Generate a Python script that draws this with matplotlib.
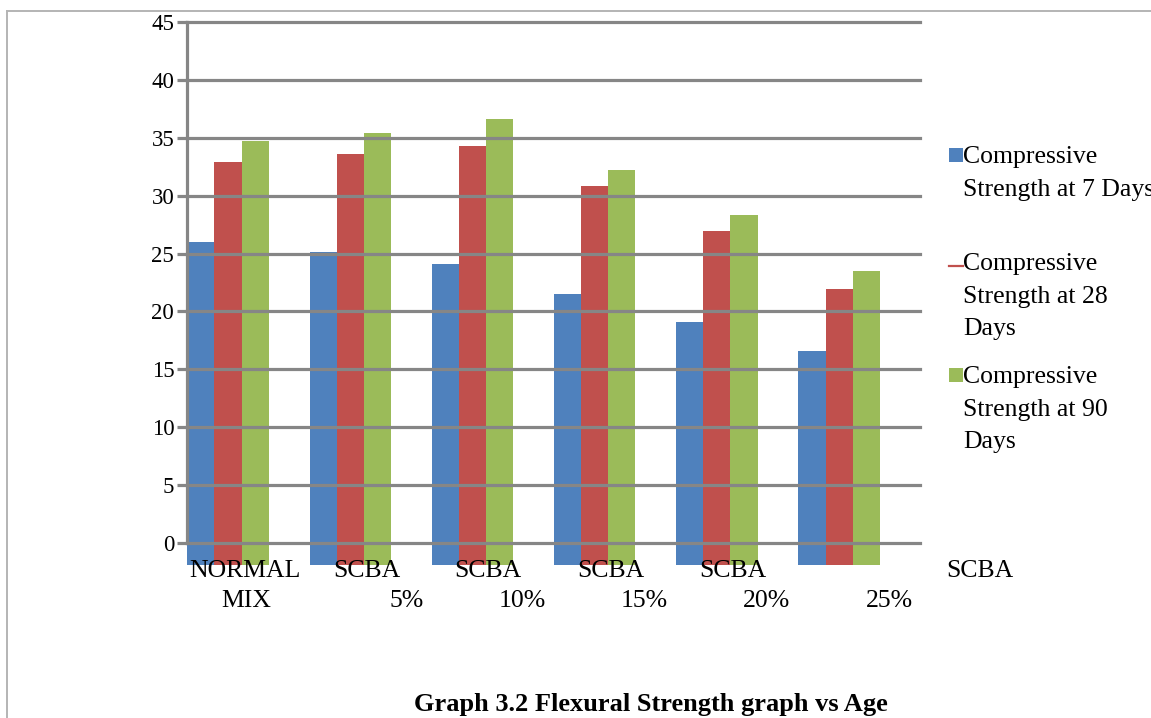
import matplotlib.pyplot as plt
from matplotlib.patches import Rectangle
from matplotlib.lines import Line2D
import numpy as np

plt.rcParams['font.family'] = ['Liberation Serif', 'DejaVu Serif']

# data
labels_top = ['NORMAL', 'SCBA', 'SCBA', 'SCBA', 'SCBA', 'SCBA']
labels_bottom = ['MIX', '5%', '10%', '15%', '20%', '25%']
days_7 = [26.0, 25.1, 24.1, 21.5, 19.1, 16.6]
days_28 = [32.9, 33.6, 34.3, 30.8, 26.9, 21.9]
days_90 = [34.7, 35.4, 36.6, 32.2, 28.3, 23.5]
series_names = ['Compressive\nStrength at 7 Days',
                'Compressive\nStrength at 28\nDays',
                'Compressive\nStrength at 90\nDays']
colors = ['#4F81BD', '#C0504D', '#9BBB59']
title = 'Graph 3.2 Flexural Strength graph vs Age'

W, H = 1151, 718
GRID = '#868686'


def fx(px):
    return px / W


def fy(py):
    return 1 - py / H


fig = plt.figure(figsize=(W / 100, H / 100), dpi=100)
ax = fig.add_axes([fx(186.7), fy(543.3), (920 - 186.7) / W, (543.3 - 21.7) / H])

x = np.arange(len(labels_top))
bw = 0.222
below = 1.85  # bars hang below the zero line in the original
for k, vals in enumerate([days_7, days_28, days_90]):
    vals = np.array(vals)
    ax.bar(x + 0.005 + k * bw, vals + below, bottom=-below, width=bw,
           align='edge', color=colors[k], zorder=1, clip_on=False,
           linewidth=0)

ax.set_xlim(0, len(labels_top))
ax.set_ylim(0, 45)
ax.set_yticks(range(0, 46, 5))
ax.set_axisbelow(False)
ax.yaxis.grid(True, color=GRID, linewidth=2.3, zorder=3)
for gl in ax.get_ygridlines():
    gl.set_clip_on(False)
ax.tick_params(axis='y', direction='out', length=7.5, width=2.3,
               color=GRID, labelsize=16.5, pad=1.5)
ax.tick_params(axis='x', bottom=False, labelbottom=False)
for s in ['top', 'right', 'bottom']:
    ax.spines[s].set_visible(False)
ax.spines['left'].set_color(GRID)
ax.spines['left'].set_linewidth(2.3)

# category labels, laid out the way the original document shows them
top_pos = [0.48, 1.478, 2.464, 3.47, 4.467, 6.49]
for lab, p in zip(labels_top, top_pos):
    ax.annotate(lab, xy=(p, 0), xycoords='data', xytext=(0, -33.4),
                textcoords='offset pixels', ha='center', va='baseline',
                fontsize=18.5, annotation_clip=False)
for i, lab in enumerate(labels_bottom):
    if i == 0:
        ax.annotate(lab, xy=(0.486, 0), xytext=(0, -63.4),
                    textcoords='offset pixels', ha='center', va='baseline',
                    fontsize=18.5, annotation_clip=False)
    else:
        ax.annotate(lab, xy=(i + 0.94, 0), xytext=(0, -63.4),
                    textcoords='offset pixels', ha='right', va='baseline',
                    fontsize=18.5, annotation_clip=False)

# legend drawn by hand
first_base = [163.3, 270, 383.3]
for k, name in enumerate(series_names):
    b0 = first_base[k]
    for j, line in enumerate(name.split('\n')):
        fig.text(fx(963), fy(b0 + j * 32.5), line, fontsize=18.5,
                 va='baseline', ha='left')
    if k == 1:
        fig.add_artist(Line2D([fx(949), fx(963)], [fy(b0 - 4.5)] * 2,
                              color=colors[k], linewidth=1.6))
    else:
        fig.add_artist(Rectangle((fx(949), fy(b0 - 1.5)), 14 / W, 14 / H,
                                 transform=fig.transFigure,
                                 color=colors[k], linewidth=0))

fig.text(fx(651), fy(711), title, fontsize=19, fontweight='bold',
         ha='center', va='baseline')

# page frame
fig.add_artist(Line2D([fx(7), 1], [fy(11), fy(11)], color='#b4b4b4', linewidth=1.4))
fig.add_artist(Line2D([fx(7), fx(7)], [fy(11), 0], color='#b4b4b4', linewidth=1.4))

fig.savefig('out.png', dpi=100)
